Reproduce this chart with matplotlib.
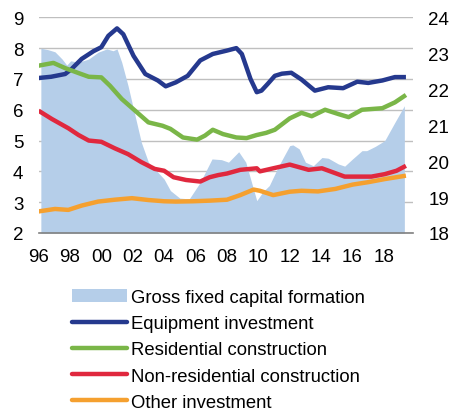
import matplotlib
matplotlib.use("Agg")
import matplotlib.pyplot as plt
from matplotlib.patches import Patch
from matplotlib.lines import Line2D

plt.rcParams['font.family'] = ['Liberation Sans', 'DejaVu Sans']

# ---- data ----
eq_t = [1996.0, 1996.8, 1997.7, 1998.1, 1998.75, 1999.5, 2000.0, 2000.45, 2001.0, 2001.4,
        2002.05, 2002.8, 2003.6, 2004.1, 2004.75, 2005.5, 2006.3, 2007.1, 2008.0, 2008.6,
        2008.95, 2009.5, 2009.9, 2010.2, 2010.6, 2011.05, 2011.5, 2012.1, 2012.75, 2013.6,
        2014.45, 2015.4, 2016.3, 2017.0, 2017.9, 2018.7, 2019.4]
eq_v = [7.03, 7.07, 7.16, 7.32, 7.65, 7.9, 8.03, 8.4, 8.64, 8.45,
        7.75, 7.16, 6.95, 6.76, 6.89, 7.1, 7.6, 7.81, 7.92, 8.0,
        7.81, 7.0, 6.57, 6.62, 6.84, 7.1, 7.17, 7.2, 6.98, 6.62,
        6.73, 6.7, 6.91, 6.87, 6.95, 7.06, 7.06]

res_t = [1996.0, 1996.95, 1997.7, 1998.55, 1999.2, 2000.0, 2000.55, 2001.3, 2002.15, 2003.0,
         2003.9, 2004.4, 2005.2, 2006.1, 2006.6, 2007.1, 2007.75, 2008.6, 2009.25, 2009.9,
         2010.5, 2011.05, 2012.0, 2012.75, 2013.4, 2014.25, 2015.1, 2015.75, 2016.6, 2017.9,
         2018.7, 2019.4]
res_v = [7.43, 7.52, 7.35, 7.19, 7.07, 7.05, 6.78, 6.35, 5.97, 5.59,
         5.48, 5.38, 5.1, 5.03, 5.16, 5.35, 5.21, 5.1, 5.08, 5.18,
         5.25, 5.35, 5.72, 5.9, 5.79, 6.0, 5.86, 5.76, 6.0, 6.05,
         6.24, 6.48]

nr_t = [1996.0, 1996.85, 1997.9, 1998.55, 1999.2, 2000.0, 2000.85, 2001.7, 2002.55, 2003.4,
        2004.0, 2004.6, 2005.4, 2006.3, 2006.9, 2007.45, 2008.0, 2008.85, 2009.9, 2010.1,
        2010.95, 2012.0, 2013.2, 2014.05, 2015.5, 2017.2, 2018.05, 2018.8, 2019.4]
nr_v = [5.97, 5.7, 5.4, 5.18, 5.0, 4.96, 4.75, 4.56, 4.3, 4.08,
        4.02, 3.81, 3.72, 3.67, 3.81, 3.88, 3.93, 4.05, 4.1, 4.0,
        4.1, 4.22, 4.05, 4.1, 3.83, 3.83, 3.91, 4.02, 4.18]

oth_t = [1996.0, 1997.05, 1997.9, 1998.75, 1999.8, 2000.85, 2001.95, 2003.0, 2004.0, 2004.75,
         2005.85, 2006.9, 2008.0, 2008.85, 2009.7, 2010.1, 2010.95, 2012.0, 2012.75, 2013.8,
         2014.9, 2016.0, 2017.0, 2018.05, 2019.4]
oth_v = [2.7, 2.78, 2.75, 2.89, 3.02, 3.08, 3.13, 3.07, 3.03, 3.02,
         3.03, 3.05, 3.08, 3.23, 3.41, 3.37, 3.23, 3.34, 3.37, 3.35,
         3.43, 3.57, 3.65, 3.75, 3.86]

gf_t = [1996.15, 1996.6, 1997.05, 1997.5, 1997.8, 1998.05, 1998.55, 1999.2, 1999.8, 2000.35,
        2000.75, 2001.0, 2001.3, 2001.7, 2002.15, 2002.55, 2003.0, 2003.6, 2004.0, 2004.4,
        2005.0, 2005.6, 2006.3, 2007.05, 2007.65, 2008.1, 2008.75, 2009.2, 2009.9, 2010.3,
        2010.7, 2011.3, 2012.0, 2012.2, 2012.6, 2013.0, 2013.5, 2014.05, 2014.45, 2015.1,
        2015.5, 2016.0, 2016.6, 2016.9, 2017.45, 2018.05, 2018.7, 2019.3]
gf_v = [23.14, 23.1, 23.04, 22.84, 22.67, 22.79, 22.75, 22.84, 23.03, 23.12,
        23.07, 23.12, 22.75, 22.1, 21.26, 20.52, 19.97, 19.69, 19.5, 19.18,
        18.97, 18.95, 19.41, 20.06, 20.04, 19.97, 20.26, 19.97, 18.9, 19.15,
        19.32, 19.87, 20.43, 20.45, 20.34, 19.97, 19.87, 20.1, 20.08, 19.92,
        19.86, 20.06, 20.29, 20.29, 20.41, 20.57, 21.08, 21.54]

x_ticks = [1996, 1998, 2000, 2002, 2004, 2006, 2008, 2010, 2012, 2014, 2016, 2018]
x_labels = ['96', '98', '00', '02', '04', '06', '08', '10', '12', '14', '16', '18']
left_ticks = [2, 3, 4, 5, 6, 7, 8, 9]
right_ticks = [18, 19, 20, 21, 22, 23, 24]

labels = ['Gross fixed capital formation', 'Equipment investment',
          'Residential construction', 'Non-residential construction', 'Other investment']

# ---- style ----
c_area = '#B5CEE9'
c_eq = '#25398E'
c_res = '#7AB648'
c_nr = '#E0283E'
c_oth = '#F5A02F'
lw = 3.2
fs = 13.5

fig = plt.figure(figsize=(4.51, 4.14), dpi=100)
ax = fig.add_axes([38.5 / 451, 1 - 234 / 414, (413 - 38.5) / 451, (234 - 18.3) / 414])
ax2 = ax.twinx()
ax3 = ax.twinx()

xlim = (1996.0, 2019.85)
for a in (ax, ax2, ax3):
    a.set_xlim(*xlim)
    for s in a.spines.values():
        s.set_visible(False)

# background grid
ax.set_ylim(2, 9)
ax.set_yticks(left_ticks)
ax.yaxis.grid(True, color='#BFBFBF', linewidth=1.0)
ax.set_axisbelow(True)
ax.tick_params(axis='y', length=0, pad=11, labelsize=fs)
ax.set_xticks(x_ticks)
ax.set_xticklabels(x_labels)
ax.tick_params(axis='x', length=0, pad=11, labelsize=fs)

# area on right axis
ax2.set_ylim(18, 24)
ax2.set_yticks(right_ticks)
ax2.tick_params(axis='y', length=0, pad=11, labelsize=fs)
ax2.fill_between(gf_t, 18, gf_v, color=c_area, linewidth=0)

# lines on left scale
ax3.set_ylim(2, 9)
ax3.set_yticks([])
ax3.spines['bottom'].set_visible(True)
ax3.spines['bottom'].set_color('#808080')
ax3.spines['bottom'].set_linewidth(1.2)
kw = dict(linewidth=lw, solid_capstyle='butt', solid_joinstyle='round')
ax3.plot(eq_t, eq_v, color=c_eq, **kw)
ax3.plot(res_t, res_v, color=c_res, **kw)
ax3.plot(nr_t, nr_v, color=c_nr, **kw)
ax3.plot(oth_t, oth_v, color=c_oth, **kw)

handles = [Patch(facecolor=c_area, edgecolor='none'),
           Line2D([], [], color=c_eq, linewidth=lw, solid_capstyle='round'),
           Line2D([], [], color=c_res, linewidth=lw, solid_capstyle='round'),
           Line2D([], [], color=c_nr, linewidth=lw, solid_capstyle='round'),
           Line2D([], [], color=c_oth, linewidth=lw, solid_capstyle='round')]
fig.legend(handles, labels, loc='upper left', bbox_to_anchor=(72 / 451, 1 - 290 / 414),
           frameon=False, fontsize=13.3, handlelength=3.0, handletextpad=0.22,
           labelspacing=0.5, borderpad=0, borderaxespad=0)

fig.savefig('out.png', dpi=100)
